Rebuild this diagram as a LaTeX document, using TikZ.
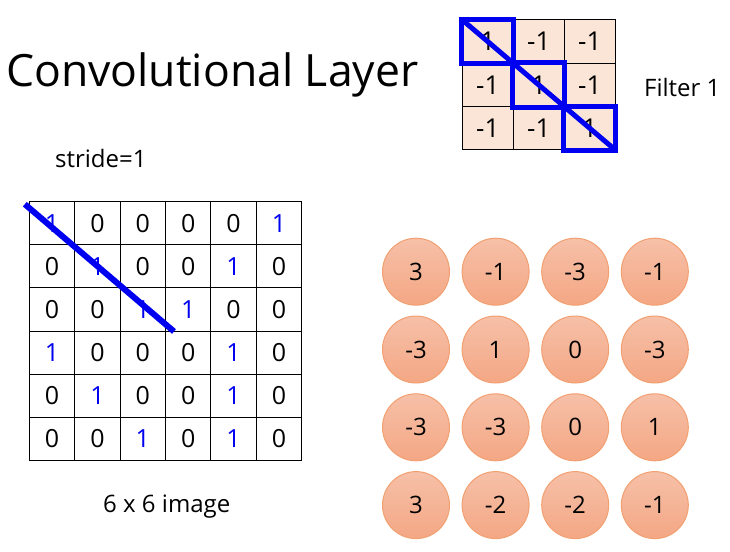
\documentclass[tikz,border=0pt]{standalone}
\usepackage{fontspec}
\setmainfont{Open Sans}
\usetikzlibrary{positioning}

\definecolor{peach}{HTML}{FBE5D6}
\definecolor{ntop}{HTML}{F6C0A8}
\definecolor{nbot}{HTML}{F4A784}
\definecolor{nborder}{HTML}{F2A071}
\definecolor{hitblue}{HTML}{0000F0}

\tikzset{
    cell/.style={draw, line width=1pt, minimum width=45.4pt, minimum height=43.1pt,
        inner sep=0pt, font=\fontsize{25}{28}\selectfont},
    fcell/.style={cell, fill=peach, minimum width=51pt, minimum height=43.3pt,
        font=\fontsize{26}{29}\selectfont},
    neuron/.style={circle, draw=nborder, line width=1pt, top color=ntop, bottom color=nbot,
        minimum size=67pt, inner sep=0pt, font=\fontsize{24}{27}\selectfont},
    hit/.style={draw=hitblue, line width=5pt},
    caption/.style={inner sep=0pt, font=\fontsize{24}{27}\selectfont}
}

\begin{document}
\begin{tikzpicture}[x=1pt, y=-1pt]
    \useasboundingbox (0,0) rectangle (730,551);

    % Title
    \node[inner sep=0pt, anchor=base west, font=\fontsize{44.5}{50}\selectfont] (title) at (6,86) {Convolutional Layer};

    % 6 x 6 image
    \foreach \row [count=\r] in {{1,0,0,0,0,1},{0,1,0,0,1,0},{0,0,1,1,0,0},
                                 {1,0,0,0,1,0},{0,1,0,0,1,0},{0,0,1,0,1,0}}
        \foreach \v [count=\c] in \row
            \node[cell] (img-\r-\c) at ({29.3+45.4*(\c-0.5)}, {201.7+43.1*(\r-0.5)})
                {\ifnum\v=1 \color{hitblue}\fi\v};
    \node[caption, anchor=west] (stride) at (55,158) {stride=1};
    \node[caption, anchor=west] (imgname) at (103,507) {6 x 6 image};

    % Filter 1
    \foreach \row [count=\r] in {{1,-1,-1},{-1,1,-1},{-1,-1,1}}
        \foreach \v [count=\c] in \row
            \node[fcell] (flt-\r-\c) at ({462.3+51*(\c-0.5)}, {20+43.3*(\r-0.5)}) {\v};
    \node[caption, anchor=west] (fltname) at (644,87) {Filter 1};

    % filter diagonal
    \foreach \i in {1,2,3}
        \draw[hit] (flt-\i-\i.north west) rectangle (flt-\i-\i.south east);
    \draw[hit] (flt-1-1.north west) -- (flt-3-3.south east);

    % stride on the image
    \coordinate (sweep-a) at ([xshift=-4pt,yshift=-3pt]img-1-1.north west);
    \coordinate (sweep-b) at ([xshift=8pt]img-3-3.south east);
    \draw[hit, line width=6pt] (sweep-a) -- (sweep-b);

    % feature map
    \foreach \row [count=\r] in {{3,-1,-3,-1},{-3,1,0,-3},{-3,-3,0,1},{3,-2,-2,-1}}
        \foreach \v [count=\c] in \row
            \node[neuron] (out-\r-\c) at ({416+79.6*(\c-1)}, {271.7+77.8*(\r-1)}) {\v};
\end{tikzpicture}
\end{document}
